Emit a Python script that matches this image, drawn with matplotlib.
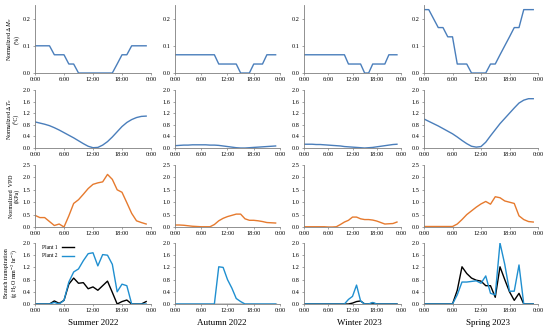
import matplotlib
matplotlib.use("Agg")
import matplotlib.pyplot as plt

plt.rcParams['font.family'] = ['Liberation Serif', 'DejaVu Serif']
plt.rcParams['mathtext.fontset'] = 'stix'

# hourly samples, 0:00 .. 23:00
hours = list(range(24))
seasons = ["Summer 2022", "Autumn 2022", "Winter 2023", "Spring 2023"]

# normalized moisture change (%)
dmw_summer = [0.1, 0.1, 0.1, 0.1, 0.067, 0.067, 0.067, 0.033, 0.033, 0, 0, 0,
              0, 0, 0, 0, 0, 0.033, 0.067, 0.067, 0.1, 0.1, 0.1, 0.1]
dmw_autumn = [0.067, 0.067, 0.067, 0.067, 0.067, 0.067, 0.067, 0.067, 0.067, 0.067, 0.033, 0.033,
              0.033, 0.033, 0.033, 0, 0, 0, 0.033, 0.033, 0.033, 0.067, 0.067, 0.067]
dmw_winter = [0.067, 0.067, 0.067, 0.067, 0.067, 0.067, 0.067, 0.067, 0.067, 0.067, 0.067, 0.033,
              0.033, 0.033, 0.033, 0, 0, 0.033, 0.033, 0.033, 0.033, 0.067, 0.067, 0.067]
dmw_spring = [0.233, 0.233, 0.2, 0.167, 0.167, 0.133, 0.133, 0.033, 0.033, 0.033, 0, 0,
              0, 0, 0.033, 0.033, 0.067, 0.1, 0.133, 0.167, 0.167, 0.233, 0.233, 0.233]

# normalized wood temperature change (C)
dtw_summer = [0.9, 0.86, 0.82, 0.77, 0.7, 0.62, 0.53, 0.44, 0.35, 0.25, 0.15, 0.06,
              0.01, 0.02, 0.1, 0.22, 0.38, 0.56, 0.74, 0.88, 0.98, 1.05, 1.09, 1.1]
dtw_autumn = [0.08, 0.09, 0.1, 0.1, 0.11, 0.11, 0.11, 0.11, 0.1, 0.1, 0.09, 0.07,
              0.05, 0.03, 0.01, 0.0, 0.0, 0.01, 0.02, 0.03, 0.04, 0.05, 0.06, 0.07]
dtw_winter = [0.13, 0.13, 0.13, 0.12, 0.12, 0.11, 0.1, 0.09, 0.08, 0.07, 0.05, 0.04,
              0.03, 0.02, 0.01, 0.0, 0.01, 0.02, 0.04, 0.06, 0.08, 0.1, 0.12, 0.13]
dtw_spring = [1.0, 0.92, 0.84, 0.76, 0.67, 0.58, 0.49, 0.38, 0.26, 0.15, 0.06, 0.03,
              0.05, 0.2, 0.42, 0.63, 0.84, 1.02, 1.2, 1.38, 1.55, 1.65, 1.7, 1.7]

# normalized VPD (kPa)
vpd_summer = [0.47, 0.38, 0.38, 0.22, 0.06, 0.12, 0.0, 0.45, 0.95, 1.1, 1.32, 1.55,
              1.72, 1.78, 1.82, 2.12, 1.92, 1.5, 1.4, 0.98, 0.55, 0.25, 0.18, 0.12]
vpd_autumn = [0.08, 0.08, 0.07, 0.05, 0.03, 0.02, 0.01, 0.01, 0.01, 0.1, 0.25, 0.35,
              0.42, 0.47, 0.52, 0.52, 0.33, 0.27, 0.27, 0.25, 0.22, 0.18, 0.17, 0.16]
vpd_winter = [0.01, 0.01, 0.01, 0.01, 0.01, 0.01, 0.0, 0.0, 0.01, 0.1, 0.2, 0.27,
              0.4, 0.4, 0.33, 0.3, 0.3, 0.28, 0.24, 0.18, 0.12, 0.13, 0.14, 0.2]
vpd_spring = [0.02, 0.02, 0.02, 0.02, 0.02, 0.02, 0.02, 0.12, 0.3, 0.5, 0.65, 0.8,
              0.93, 1.03, 0.92, 1.22, 1.18, 1.05, 1.0, 0.95, 0.45, 0.3, 0.22, 0.2]

# branch transpiration, plant 1 and plant 2
p1_summer = [0, 0, 0, 0, 0.1, 0.02, 0.12, 0.65, 0.85, 0.68, 0.7, 0.5,
             0.56, 0.45, 0.6, 0.75, 0.38, 0.0, 0.08, 0.13, 0.0, 0, 0, 0.08]
p2_summer = [0, 0, 0, 0, 0.05, 0.0, 0.12, 0.72, 1.05, 1.15, 1.42, 1.65,
             1.68, 1.25, 1.62, 1.6, 1.3, 0.4, 0.65, 0.6, 0.0, 0, 0, 0]
p1_autumn = [0] * 24
p2_autumn = [0, 0, 0, 0, 0, 0, 0, 0, 0, 0, 1.22, 1.2,
             0.8, 0.52, 0.18, 0.08, 0, 0, 0, 0, 0, 0, 0, 0]
p1_winter = [0, 0, 0, 0, 0, 0, 0, 0, 0, 0, 0, 0,
             0.03, 0.08, 0.1, 0, 0, 0.03, 0, 0, 0, 0, 0, 0]
p2_winter = [0, 0, 0, 0, 0, 0, 0, 0, 0, 0, 0, 0.15,
             0.25, 0.62, 0.1, 0, 0, 0.05, 0, 0, 0, 0, 0, 0]
p1_spring = [0, 0, 0, 0, 0, 0, 0, 0.45, 1.22, 1.0, 0.85, 0.78,
             0.75, 0.6, 0.6, 0.22, 1.22, 0.8, 0.4, 0.12, 0.35, 0, 0, 0]
p2_spring = [0, 0, 0, 0, 0, 0, 0, 0.3, 0.72, 0.72, 0.74, 0.76,
             0.68, 0.92, 0.35, 0.3, 2.0, 1.3, 0.42, 0.42, 1.28, 0, 0, 0]

dmw = [dmw_summer, dmw_autumn, dmw_winter, dmw_spring]
dtw = [dtw_summer, dtw_autumn, dtw_winter, dtw_spring]
vpd = [vpd_summer, vpd_autumn, vpd_winter, vpd_spring]
plant1 = [p1_summer, p1_autumn, p1_winter, p1_spring]
plant2 = [p2_summer, p2_autumn, p2_winter, p2_spring]

row_labels = ["Normalized $\\Delta M_w$\n(%)",
              "Normalized $\\Delta T_w$\n(\u00b0C)",
              "Normalized  VPD\n(KPa)",
              "Branch transpiration\n(g H$_2$O mm$^{-2}$ hr$^{-1}$)"]
row_ylims = [(0, 0.25), (0, 2.0), (0, 2.5), (0, 2.0)]
row_yticks = [[0.0, 0.1, 0.2], [0.0, 0.4, 0.8, 1.2, 1.6, 2.0],
              [0.0, 0.5, 1.0, 1.5, 2.0, 2.5], [0.0, 0.4, 0.8, 1.2, 1.6, 2.0]]
xticks = [0, 6, 12, 18, 24]
xticklabels = ["0:00", "6:00", "12:00", "18:00", "0:00"]

BLUE = "#4a7ebb"
ORANGE = "#e67a2e"
CYAN = "#1f8fd0"

W, H = 550, 332
fig = plt.figure(figsize=(W / 100, H / 100), dpi=100)

# pixel boxes (left, right) per column and (top, bottom) per row
col_px = [(35, 151), (175, 280), (304, 401), (424, 538)]
row_px = [(5, 73), (90, 148), (165, 227), (243, 304)]
season_x = [93, 222, 359, 488]

def make_ax(r, c):
    x0, x1 = col_px[c]
    y0, y1 = row_px[r]
    ax = fig.add_axes([x0 / W, 1 - y1 / H, (x1 - x0) / W, (y1 - y0) / H])
    for s in ("top", "right"):
        ax.spines[s].set_visible(False)
    for s in ("left", "bottom"):
        ax.spines[s].set_color("#7f7f7f")
        ax.spines[s].set_linewidth(0.6)
    ax.set_xlim(0, 24)
    ax.set_ylim(*row_ylims[r])
    ax.set_yticks(row_yticks[r])
    ax.set_yticklabels([f"{v:.1f}" for v in row_yticks[r]])
    ax.set_xticks(xticks)
    ax.set_xticklabels(xticklabels)
    ax.tick_params(labelsize=4.5, length=1.5, width=0.5, color="#7f7f7f", pad=1.5)
    if c == 0:
        ax.set_ylabel(row_labels[r], fontsize=4.3, labelpad=2, linespacing=1.1)
    return ax

for c in range(4):
    ax = make_ax(0, c)
    ax.plot(hours, dmw[c], color=BLUE, lw=1.0)

    ax = make_ax(1, c)
    ax.plot(hours, dtw[c], color=BLUE, lw=1.0)

    ax = make_ax(2, c)
    ax.plot(hours, vpd[c], color=ORANGE, lw=1.0)

    ax = make_ax(3, c)
    ax.plot(hours, plant1[c], color="black", lw=1.0, label="Plant 1")
    ax.plot(hours, plant2[c], color=CYAN, lw=1.0, label="Plant 2")
    if c == 0:
        ax.legend(loc="upper left", fontsize=4, frameon=False, markerfirst=False,
                  handlelength=2.2, borderaxespad=0.2, labelspacing=0.6,
                  bbox_to_anchor=(0.03, 1.02))

    fig.text(season_x[c] / W, 1 - 323 / H, seasons[c], fontsize=6.5,
             ha="center", va="center")

fig.savefig("out.png", dpi=100)
